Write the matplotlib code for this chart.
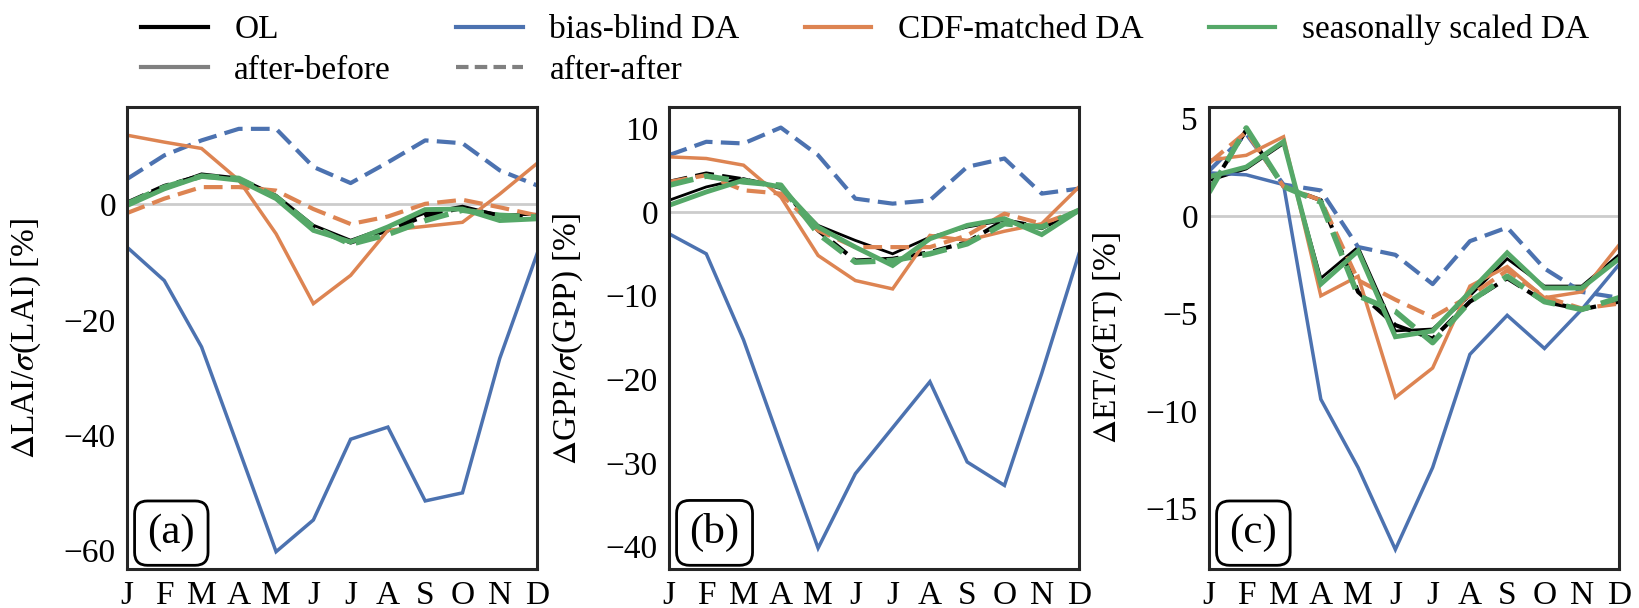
import numpy as np
import matplotlib
matplotlib.use("Agg")
import matplotlib.pyplot as plt
from matplotlib.lines import Line2D

plt.rcParams["font.family"] = ["Liberation Serif", "DejaVu Serif"]
plt.rcParams["mathtext.fontset"] = "stix"
plt.rcParams["axes.unicode_minus"] = True

# month labels
months = ["J", "F", "M", "A", "M", "J", "J", "A", "S", "O", "N", "D"]

# (a) LAI  -- ab = after-before, aa = after-after
lai_ol_ab = [0.2, 3.0, 5.3, 4.6, 1.6, -3.6, -6.2, -3.9, -1.5, -0.3, -1.9, -1.7]
lai_ol_aa = [0.3, 3.2, 5.0, 4.4, 1.3, -4.0, -6.6, -4.5, -2.0, -0.6, -1.9, -2.0]
lai_bb_ab = [-7.4, -13.2, -24.7, -42.4, -60.2, -54.7, -40.7, -38.6, -51.4, -50.0, -26.7, -8.6]
lai_bb_aa = [4.4, 8.5, 11.1, 13.1, 13.1, 6.5, 3.7, 7.3, 11.1, 10.6, 5.9, 3.3]
lai_cdf_ab = [12.0, 10.8, 9.7, 4.2, -5.1, -17.2, -12.3, -4.5, -3.8, -3.1, 1.8, 7.1]
lai_cdf_aa = [-1.5, 1.0, 3.0, 3.0, 2.4, -0.8, -3.4, -2.1, 0.1, 0.8, -0.5, -1.9]
lai_ss_ab = [-0.2, 2.7, 4.9, 4.2, 1.0, -4.5, -6.5, -3.9, -0.9, -0.8, -2.8, -2.5]
lai_ss_aa = [0.1, 3.0, 4.9, 4.5, 1.3, -3.9, -6.9, -5.2, -2.8, -1.0, -1.9, -2.2]

# (b) GPP
gpp_ol_ab = [1.4, 3.0, 4.0, 2.8, -1.6, -3.4, -5.0, -3.0, -1.8, -1.0, -2.0, 0.2]
gpp_ol_aa = [3.6, 4.6, 3.9, 3.0, -2.2, -5.8, -5.6, -4.8, -3.6, -1.0, -1.8, 0.2]
gpp_bb_ab = [-2.6, -5.0, -15.3, -27.8, -40.2, -31.3, -25.8, -20.3, -29.9, -32.7, -19.3, -5.0]
gpp_bb_aa = [6.8, 8.4, 8.2, 10.1, 6.8, 1.6, 1.0, 1.4, 5.4, 6.4, 2.2, 2.8]
gpp_cdf_ab = [6.6, 6.4, 5.6, 1.8, -5.2, -8.2, -9.2, -2.8, -3.4, -2.3, -1.4, 3.0]
gpp_cdf_aa = [3.6, 4.4, 2.6, 2.2, -2.2, -4.2, -4.2, -4.2, -2.8, -0.2, -1.4, 0.2]
gpp_ss_ab = [0.8, 2.4, 3.8, 3.0, -1.8, -4.2, -6.4, -3.2, -1.6, -0.8, -2.7, 0.2]
gpp_ss_aa = [3.2, 4.3, 3.6, 3.2, -2.6, -6.0, -5.8, -5.0, -3.8, -1.4, -1.8, 0.2]

# (c) ET
et_ol_ab = [1.8, 2.4, 3.7, -3.2, -1.6, -5.9, -5.8, -4.1, -2.2, -3.6, -3.6, -2.0]
et_ol_aa = [1.3, 4.4, 1.5, 0.8, -3.9, -5.6, -6.3, -4.4, -3.2, -4.4, -4.8, -4.4]
et_bb_ab = [2.2, 2.1, 1.6, -9.4, -12.9, -17.1, -12.9, -7.1, -5.1, -6.8, -4.8, -2.5]
et_bb_aa = [2.3, 4.2, 1.6, 1.3, -1.6, -2.0, -3.5, -1.3, -0.6, -2.7, -3.9, -4.2]
et_cdf_ab = [2.85, 3.1, 4.05, -4.1, -3.1, -9.3, -7.8, -3.6, -2.6, -4.2, -3.9, -1.5]
et_cdf_aa = [2.7, 4.3, 1.5, 0.8, -3.3, -4.3, -5.2, -4.1, -2.8, -4.15, -4.75, -4.5]
et_ss_ab = [2.0, 2.5, 3.8, -3.5, -1.8, -6.2, -5.9, -3.9, -1.9, -3.7, -3.7, -2.2]
et_ss_aa = [1.2, 4.5, 1.5, 0.7, -4.1, -4.9, -6.5, -4.4, -3.1, -4.4, -4.8, -4.2]

panels = [
    ("LAI", "(a)", (-63.2, 16.8), [-60, -40, -20, 0],
     [lai_ol_ab, lai_ol_aa, lai_bb_ab, lai_bb_aa, lai_cdf_ab, lai_cdf_aa, lai_ss_ab, lai_ss_aa]),
    ("GPP", "(b)", (-42.7, 12.5), [-40, -30, -20, -10, 0, 10],
     [gpp_ol_ab, gpp_ol_aa, gpp_bb_ab, gpp_bb_aa, gpp_cdf_ab, gpp_cdf_aa, gpp_ss_ab, gpp_ss_aa]),
    ("ET", "(c)", (-18.1, 5.55), [-15, -10, -5, 0, 5],
     [et_ol_ab, et_ol_aa, et_bb_ab, et_bb_aa, et_cdf_ab, et_cdf_aa, et_ss_ab, et_ss_aa]),
]

colors = ["black", "#4C72B0", "#DD8452", "#55A868"]
lw_solid = [2.0, 2.5, 2.5, 3.5]
lw_dash = [3.0, 3.0, 3.0, 4.0]

FS = 24
fig = plt.figure(figsize=(16.39, 6.08), dpi=100)
lefts = [127 / 1639, 669 / 1639, 1209 / 1639]
x = np.arange(12)

for (var, tag, ylim, yticks, series), left in zip(panels, lefts):
    ax = fig.add_axes([left, 39 / 608, 410 / 1639, 461.5 / 608])
    ax.axhline(0, color="#cccccc", lw=2, zorder=0)
    for k in range(4):
        ax.plot(x, series[2 * k], color=colors[k], lw=lw_solid[k], solid_joinstyle="miter")
        ax.plot(x, series[2 * k + 1], color=colors[k], lw=lw_dash[k], ls=(0, (4.5, 2)))
    ax.set_xlim(0, 11)
    ax.set_ylim(*ylim)
    ax.set_xticks(x)
    ax.set_xticklabels(months)
    ax.set_yticks(yticks)
    ax.tick_params(length=0, pad=8, labelsize=FS)
    for sp in ax.spines.values():
        sp.set_color("#262626")
        sp.set_linewidth(2.2)
    ax.set_ylabel(r"$\Delta$" + var + r"/$\sigma$(" + var + ") [%]", fontsize=FS)
    ax.yaxis.set_label_coords(-0.205, 0.5)
    ax.text(0.05, 0.036, tag, transform=ax.transAxes, fontsize=31, ha="left", va="bottom",
            bbox=dict(boxstyle="round,pad=0.3", fc="white", ec="black", lw=2))

handles = [
    Line2D([], [], color="black", lw=3),
    Line2D([], [], color="gray", lw=3),
    Line2D([], [], color=colors[1], lw=3),
    Line2D([], [], color="gray", lw=3, ls=(0, (3, 1.5))),
    Line2D([], [], color=colors[2], lw=3),
    Line2D([], [], color=colors[3], lw=3),
]
labels = ["OL", "after-before", "bias-blind DA", "after-after", "CDF-matched DA", "seasonally scaled DA"]
fig.legend(handles, labels, loc="center left", bbox_to_anchor=(141 / 1639, 1 - 50 / 608),
           ncol=4, frameon=False, fontsize=FS, borderpad=0, borderaxespad=0,
           handlelength=2.0, handletextpad=0.8, columnspacing=1.95, labelspacing=0.3)

fig.savefig("out.png", dpi=100)
